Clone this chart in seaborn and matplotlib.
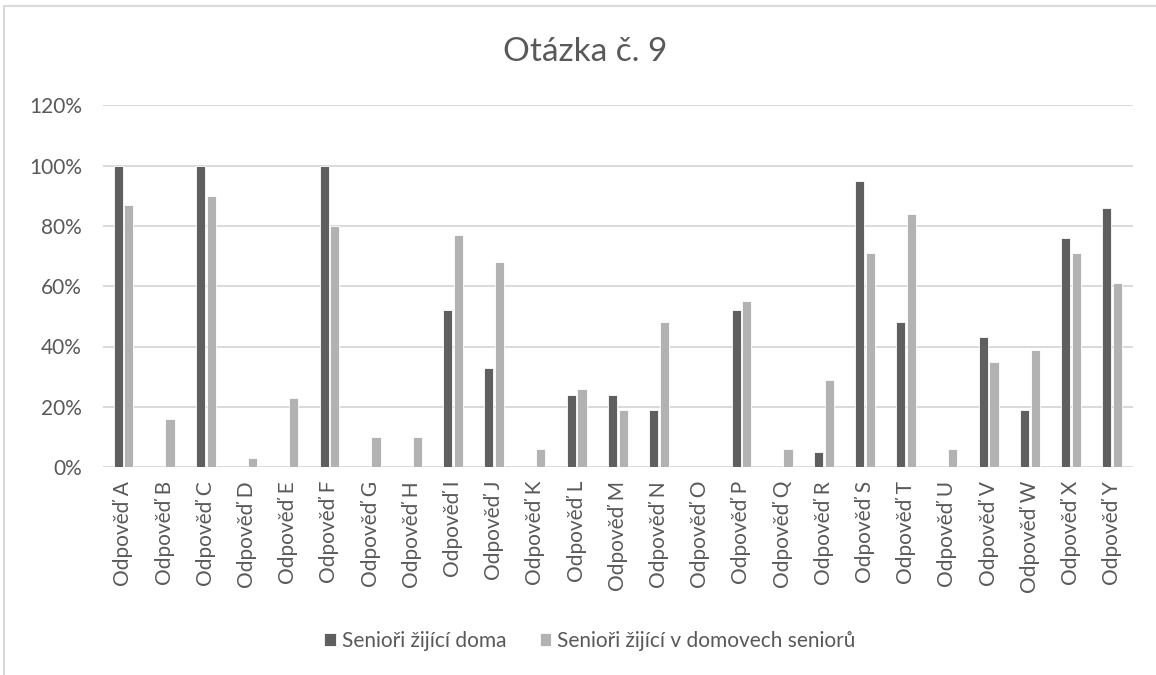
import pandas as pd
import seaborn as sns
import matplotlib.pyplot as plt
from matplotlib.patches import Rectangle
from matplotlib.ticker import PercentFormatter

odpovedi = ['Odpověď ' + c for c in 'ABCDEFGHIJKLMNOPQRSTUVWXY']
doma = [100, 0, 100, 0, 0, 100, 0, 0, 52, 33, 0, 24, 24, 19, 0, 52, 0, 5, 95, 48, 0, 43, 19, 76, 86]
domovy = [87, 16, 90, 3, 23, 80, 10, 10, 77, 68, 6, 26, 19, 48, 0, 55, 6, 29, 71, 84, 6, 35, 39, 71, 61]
serie = ['Senioři žijící doma', 'Senioři žijící v domovech seniorů']
barvy = ['#5f5f5f', '#b2b2b2']

df = pd.DataFrame({
    'Odpověď': odpovedi * 2,
    'Hodnota': doma + domovy,
    'Skupina': [serie[0]] * len(odpovedi) + [serie[1]] * len(odpovedi),
})

sns.set_theme(style="white")
plt.rcParams['font.family'] = ['Lato', 'DejaVu Sans']
text_color = '#595959'

fig = plt.figure(figsize=(11.56, 6.75), dpi=100)
ax = fig.add_axes([0.089, 0.308, 0.891, 0.536])

sns.barplot(data=df, x='Odpověď', y='Hodnota', hue='Skupina', palette=barvy,
            width=0.52, gap=0.15, ax=ax, edgecolor='white', linewidth=0.6)

ax.set_ylim(0, 120)
ax.set_yticks(range(0, 121, 20))
ax.yaxis.set_major_formatter(PercentFormatter(decimals=0))
ax.grid(axis='y', color='#d9d9d9', linewidth=1.4)
ax.set_axisbelow(True)
for s in ax.spines.values():
    s.set_visible(False)
ax.set_xlim(-0.5, len(odpovedi) - 0.5)
ax.set_xlabel('')
ax.set_ylabel('')
ax.tick_params(axis='y', colors=text_color, labelsize=15, length=0, pad=15)
ax.tick_params(axis='x', colors=text_color, labelsize=15, length=0, pad=10)
plt.setp(ax.get_xticklabels(), rotation=90)

fig.text(585 / 1156, 1 - 52 / 675, 'Otázka č. 9', ha='center', va='center', fontsize=24, color=text_color)

handles, labels = ax.get_legend_handles_labels()
ax.legend_.remove()
fig.legend(handles, labels, loc='center', bbox_to_anchor=(590 / 1156, 1 - 641 / 675), ncol=2,
           frameon=False, fontsize=15, labelcolor=text_color, handlelength=0.55,
           handleheight=0.55, handletextpad=0.3, columnspacing=1.6)

fig.patches.append(Rectangle((4 / 1156, -0.1), 1.2, 1 - 6 / 675 + 0.1, transform=fig.transFigure,
                             fill=False, edgecolor='#d9d9d9', linewidth=1.5))

fig.savefig('out.png', dpi=100)
